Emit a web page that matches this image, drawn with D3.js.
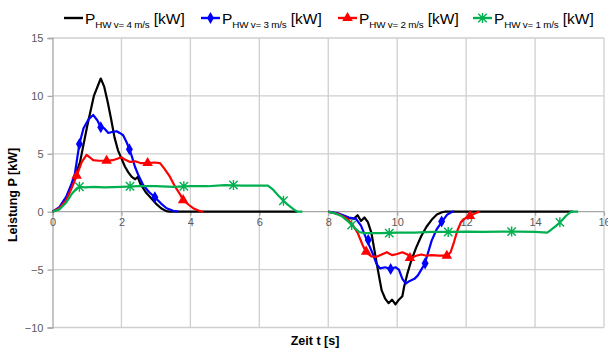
<!DOCTYPE html>
<html><head><meta charset="utf-8">
<script src="https://cdn.jsdelivr.net/npm/d3@7"></script>
<style>body{margin:0;background:#fff}svg{display:block;font-family:"Liberation Sans",Arial,sans-serif}</style>
</head><body><svg id="c" width="608" height="349"></svg>
<script>
// ---- data ----
const xTicks = [0, 2, 4, 6, 8, 10, 12, 14, 16];
const yTicks = [-10, -5, 0, 5, 10, 15];
const seriesNames = ["HW v= 4 m/s", "HW v= 3 m/s", "HW v= 2 m/s", "HW v= 1 m/s"];

const dataV4 = [[0,0],[0.2,0.3],[0.4,1.2],[0.6,2.6],[0.8,4.3],[1.0,7.3],[1.2,10.0],[1.4,11.5],[1.5,10.8],[1.6,9.5],[1.7,8.0],[1.8,6.4],[1.9,5.3],[2.0,4.6],[2.1,3.9],[2.2,3.4],[2.3,3.0],[2.4,2.8],[2.47,3.0],[2.55,2.4],[2.7,1.7],[2.85,1.2],[3.0,0.7],[3.15,0.3],[3.3,0.05],[3.4,0],[7.1,0],
  null,
  [8.0,0],[8.3,-0.2],[8.6,-0.55],[8.75,-0.6],[8.85,-0.3],[8.95,-0.8],[9.05,-0.5],[9.15,-0.9],[9.25,-1.8],[9.35,-3.5],[9.45,-5.2],[9.55,-6.8],[9.65,-7.5],[9.75,-7.9],[9.85,-7.6],[9.95,-8.0],[10.05,-7.6],[10.15,-7.3],[10.2,-6.5],[10.3,-5.3],[10.4,-4.3],[10.55,-3.1],[10.7,-2.1],[10.85,-1.3],[11.0,-0.7],[11.15,-0.25],[11.3,-0.05],[11.4,0],[15.1,0]];

const dataV3 = [[0,0],[0.2,0.4],[0.4,1.3],[0.55,2.4],[0.65,3.3],[0.78,5.85],[0.9,7.2],[1.05,8.0],[1.18,8.35],[1.3,7.9],[1.4,7.3],[1.5,7.2],[1.62,6.8],[1.75,6.9],[1.86,6.95],[1.95,6.8],[2.05,6.6],[2.15,6.0],[2.23,5.4],[2.3,4.8],[2.39,3.9],[2.5,3.1],[2.63,2.3],[2.8,1.7],[2.97,1.25],[3.15,0.7],[3.31,0.3],[3.5,0.08],[3.65,0],
  null,
  [8.0,0],[8.3,-0.15],[8.6,-0.5],[8.8,-0.6],[8.95,-1.2],[9.1,-2.3],[9.2,-3.0],[9.3,-3.7],[9.4,-4.5],[9.5,-4.9],[9.65,-4.8],[9.8,-4.95],[9.95,-4.8],[10.05,-5.0],[10.15,-5.8],[10.25,-6.2],[10.35,-6.0],[10.5,-5.8],[10.6,-5.5],[10.7,-5.0],[10.8,-4.5],[10.9,-3.5],[11.0,-2.5],[11.15,-1.5],[11.3,-0.85],[11.45,-0.25],[11.6,0],[11.65,0]];

const dataV2 = [[0,0],[0.2,0.3],[0.4,1.0],[0.55,2.0],[0.7,3.1],[0.85,4.3],[0.99,4.9],[1.08,4.7],[1.18,4.45],[1.35,4.4],[1.57,4.4],[1.75,4.45],[1.9,4.6],[2.0,4.7],[2.1,4.5],[2.25,4.3],[2.4,4.35],[2.55,4.2],[2.76,4.2],[2.95,4.25],[3.12,4.2],[3.25,3.7],[3.41,3.0],[3.55,2.2],[3.7,1.5],[3.79,1.0],[3.95,0.6],[4.08,0.3],[4.25,0.08],[4.37,0],
  null,
  [8.0,0],[8.3,-0.2],[8.55,-0.6],[8.7,-1.1],[8.85,-1.8],[9.0,-2.9],[9.1,-3.5],[9.25,-3.85],[9.4,-3.9],[9.55,-3.7],[9.7,-3.5],[9.85,-3.75],[10.0,-3.65],[10.15,-3.5],[10.3,-3.7],[10.4,-4.0],[10.55,-3.8],[10.7,-3.7],[10.85,-3.8],[11.0,-3.75],[11.2,-3.8],[11.45,-3.8],[11.55,-3.5],[11.65,-2.6],[11.75,-1.6],[11.85,-0.9],[12.0,-0.5],[12.1,-0.35],[12.25,-0.15],[12.38,0]];

const dataV1 = [[0,0],[0.2,0.2],[0.4,0.8],[0.55,1.5],[0.7,2.0],[0.78,2.15],[0.95,2.1],[1.2,2.15],[1.5,2.1],[2.0,2.15],[2.5,2.2],[3.0,2.2],[3.5,2.15],[4.0,2.2],[4.5,2.2],[5.0,2.3],[5.5,2.25],[6.0,2.25],[6.25,2.25],[6.4,1.9],[6.55,1.4],[6.7,0.95],[6.85,0.55],[7.0,0.2],[7.1,0],[7.25,0],
  null,
  [8.0,0],[8.2,-0.15],[8.4,-0.4],[8.6,-0.9],[8.75,-1.35],[8.9,-1.75],[9.05,-1.85],[9.5,-1.85],[10.0,-1.8],[10.5,-1.8],[11.0,-1.75],[11.5,-1.75],[12.0,-1.72],[12.5,-1.75],[13.0,-1.72],[13.5,-1.72],[14.0,-1.75],[14.35,-1.8],[14.45,-1.6],[14.6,-1.25],[14.75,-0.85],[14.9,-0.35],[15.05,0],[15.25,0]];

const markersV3 = [[0.78,5.85],[1.40,7.3],[2.23,5.4],[2.97,1.25],[9.16,-2.44],[9.81,-4.95],[10.81,-4.46],[11.29,-0.85]];
const markersV2 = [[0.70,3.1],[1.57,4.4],[2.76,4.2],[3.79,1.0],[9.1,-3.45],[10.37,-4.0],[11.44,-3.8],[12.11,-0.37]];
const markersV1 = [[0.78,2.15],[2.25,2.2],[3.81,2.2],[5.25,2.3],[6.7,0.95],[8.68,-1.15],[9.77,-1.85],[11.48,-1.75],[13.32,-1.72],[14.72,-0.92]];

// ---- chart ----
const svg = d3.select("#c");
const x = d3.scaleLinear().domain([0, 16]).range([52.5, 604]);
const y = d3.scaleLinear().domain([-10, 15]).range([327.5, 38]);
const gridC = "#cfcfcf", axisC = "#a6a6a6", txtC = "#595959";

const grid = svg.append("g");
grid.selectAll("line.v").data(xTicks.filter(d => d > 0)).join("line")
  .attr("x1", d => x(d)).attr("x2", d => x(d)).attr("y1", y(15)).attr("y2", y(-10))
  .attr("stroke", gridC).attr("stroke-width", 1.3);
grid.selectAll("line.h").data(yTicks).join("line")
  .attr("x1", x(0)).attr("x2", x(16)).attr("y1", d => y(d)).attr("y2", d => y(d))
  .attr("stroke", d => d === 0 ? axisC : gridC).attr("stroke-width", 1.3);

// y axis
const yAxis = d3.axisLeft(y).tickValues(yTicks).tickSize(5).tickPadding(4);
const gy = svg.append("g").attr("transform", `translate(${x(0)},0)`).call(yAxis);
gy.select(".domain").attr("stroke", axisC).attr("stroke-width", 1.3);
gy.selectAll(".tick line").attr("stroke", axisC).attr("stroke-width", 1.3);
gy.selectAll(".tick text").attr("fill", txtC).attr("font-size", 11).attr("font-family", "Liberation Sans, Arial");

// x axis at zero
const xAxis = d3.axisBottom(x).tickValues(xTicks).tickSize(4).tickPadding(3);
const gx = svg.append("g").attr("transform", `translate(0,${y(0)})`).call(xAxis);
gx.select(".domain").remove();
gx.selectAll(".tick line").attr("stroke", axisC).attr("stroke-width", 1.3);
gx.selectAll(".tick text").attr("fill", txtC).attr("font-size", 11).attr("font-family", "Liberation Sans, Arial");

// series
const line = d3.line().defined(d => d !== null).x(d => x(d[0])).y(d => y(d[1]));
const colors = ["#000000", "#0000ff", "#ff0000", "#00b050"];
const datas = [dataV4, dataV3, dataV2, dataV1];
const markerSets = [[], markersV3, markersV2, markersV1];

function drawMarker(g, type, cx, cy, color) {
  if (type === 1) {
    g.append("path").attr("d", d3.symbol(d3.symbolDiamond, 42)()).attr("transform", `translate(${cx},${cy})`).attr("fill", color);
  } else if (type === 2) {
    g.append("path").attr("d", d3.symbol(d3.symbolTriangle, 48)()).attr("transform", `translate(${cx},${cy})`).attr("fill", color);
  } else if (type === 3) {
    const s = 4.2;
    g.append("path").attr("d", `M${-s},${-s}L${s},${s}M${-s},${s}L${s},${-s}M0,${-s-0.8}L0,${s+0.8}`)
      .attr("transform", `translate(${cx},${cy})`).attr("stroke", color).attr("stroke-width", 1.4).attr("fill", "none");
  }
}

datas.forEach((data, i) => {
  const g = svg.append("g");
  g.append("path").datum(data).attr("d", line).attr("fill", "none")
    .attr("stroke", colors[i]).attr("stroke-width", 2.2).attr("stroke-linejoin", "round");
  markerSets[i].forEach(m => drawMarker(g, i, x(m[0]), y(m[1]), colors[i]));
});

// legend
const legStarts = [64, 201, 338, 473];
seriesNames.forEach((name, i) => {
  const g = svg.append("g").attr("transform", `translate(${legStarts[i]},18)`);
  g.append("line").attr("x1", 0).attr("x2", 19).attr("y1", 0).attr("y2", 0).attr("stroke", colors[i]).attr("stroke-width", 2.4);
  drawMarker(g, i, 9.5, 0, colors[i]);
  const t = g.append("text").attr("x", 21).attr("y", 6).attr("fill", "#000").attr("font-size", 15.5);
  t.append("tspan").text("P");
  t.append("tspan").attr("font-size", 9.8).attr("dy", 4).attr("letter-spacing", -0.2).text(name);
  t.append("tspan").attr("dy", -4).text(" [kW]");
});

// axis titles
svg.append("text").attr("transform", "translate(17,195) rotate(-90)").attr("text-anchor", "middle")
  .attr("font-size", 12.5).attr("font-weight", "bold").attr("fill", "#000").text("Leistung P [kW]");
svg.append("text").attr("x", 315).attr("y", 345).attr("text-anchor", "middle")
  .attr("font-size", 12.5).attr("font-weight", "bold").attr("fill", "#000").text("Zeit t [s]");
</script></body></html>
